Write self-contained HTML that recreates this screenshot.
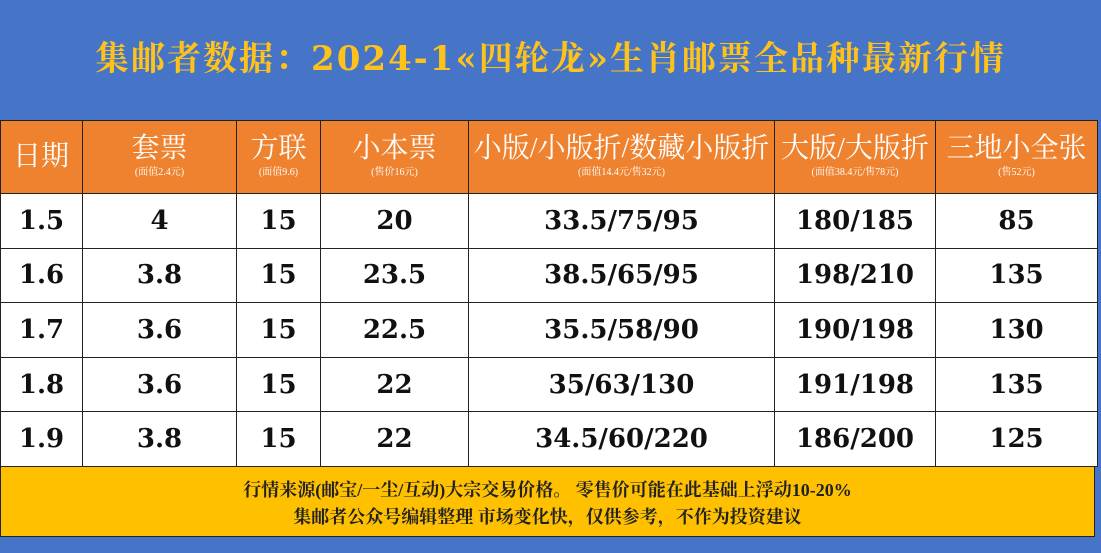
<!DOCTYPE html>
<html><head><meta charset="utf-8"><style>
body{margin:0;width:1101px;height:553px;background:#4674c6;position:relative;overflow:hidden;font-family:"Liberation Serif","Noto Serif CJK SC",serif}
.title{position:absolute;left:0;width:1101px;top:31px;text-align:center;color:#ffc21a;font-size:34px;font-weight:bold;letter-spacing:2px;font-family:"DejaVu Serif","Noto Serif CJK SC",serif;white-space:nowrap}
table{position:absolute;left:0;top:120px;border-collapse:collapse;width:1097px;table-layout:fixed}
td{border:1.5px solid #222;text-align:center;padding:0;font-weight:bold;font-size:26px;color:#111;font-family:"DejaVu Serif","Noto Serif CJK SC",serif;white-space:nowrap;overflow:hidden}
tr.h td{background:#ee822f;color:#fff;height:73px;font-weight:normal;font-size:28px;line-height:32px;vertical-align:top;padding-top:12px;box-sizing:border-box;font-family:"Liberation Serif","Noto Serif CJK SC",serif}
tr.h td small{display:block;font-size:10px;line-height:12px;margin-top:2px}
tr.d td{background:#fff;height:53.6px}
.foot{position:absolute;left:0;top:466px;width:1095px;height:71px;background:#ffc000;border:1.5px solid #222;box-sizing:border-box;text-align:center;font-size:18px;line-height:27px;padding-top:10px;font-weight:bold;color:#222;font-family:"Liberation Serif","Noto Serif CJK SC",serif}
</style></head><body>
<div class="title">集邮者数据：2024-1«四轮龙»生肖邮票全品种最新行情</div>
<table>
<colgroup><col style="width:82px"><col style="width:154px"><col style="width:84px"><col style="width:148px"><col style="width:306px"><col style="width:161px"><col style="width:162px"></colgroup>
<tr class="h"><td style="text-align:left;padding-left:12px;padding-top:20px">日期</td><td>套票<small>(面值2.4元)</small></td><td>方联<small>(面值9.6)</small></td><td>小本票<small>(售价16元)</small></td><td>小版/小版折/数藏小版折<small>(面值14.4元/售32元)</small></td><td>大版/大版折<small>(面值38.4元/售78元)</small></td><td>三地小全张<small>(售52元)</small></td></tr>
<tr class="d"><td>1.5</td><td>4</td><td>15</td><td>20</td><td>33.5/75/95</td><td>180/185</td><td>85</td></tr>
<tr class="d"><td>1.6</td><td>3.8</td><td>15</td><td>23.5</td><td>38.5/65/95</td><td>198/210</td><td>135</td></tr>
<tr class="d"><td>1.7</td><td>3.6</td><td>15</td><td>22.5</td><td>35.5/58/90</td><td>190/198</td><td>130</td></tr>
<tr class="d"><td>1.8</td><td>3.6</td><td>15</td><td>22</td><td>35/63/130</td><td>191/198</td><td>135</td></tr>
<tr class="d"><td>1.9</td><td>3.8</td><td>15</td><td>22</td><td>34.5/60/220</td><td>186/200</td><td>125</td></tr>
</table>
<div class="foot">行情来源(邮宝/一尘/互动)大宗交易价格。 零售价可能在此基础上浮动10-20%<br>集邮者公众号编辑整理 市场变化快，仅供参考，不作为投资建议</div>
</body></html>
